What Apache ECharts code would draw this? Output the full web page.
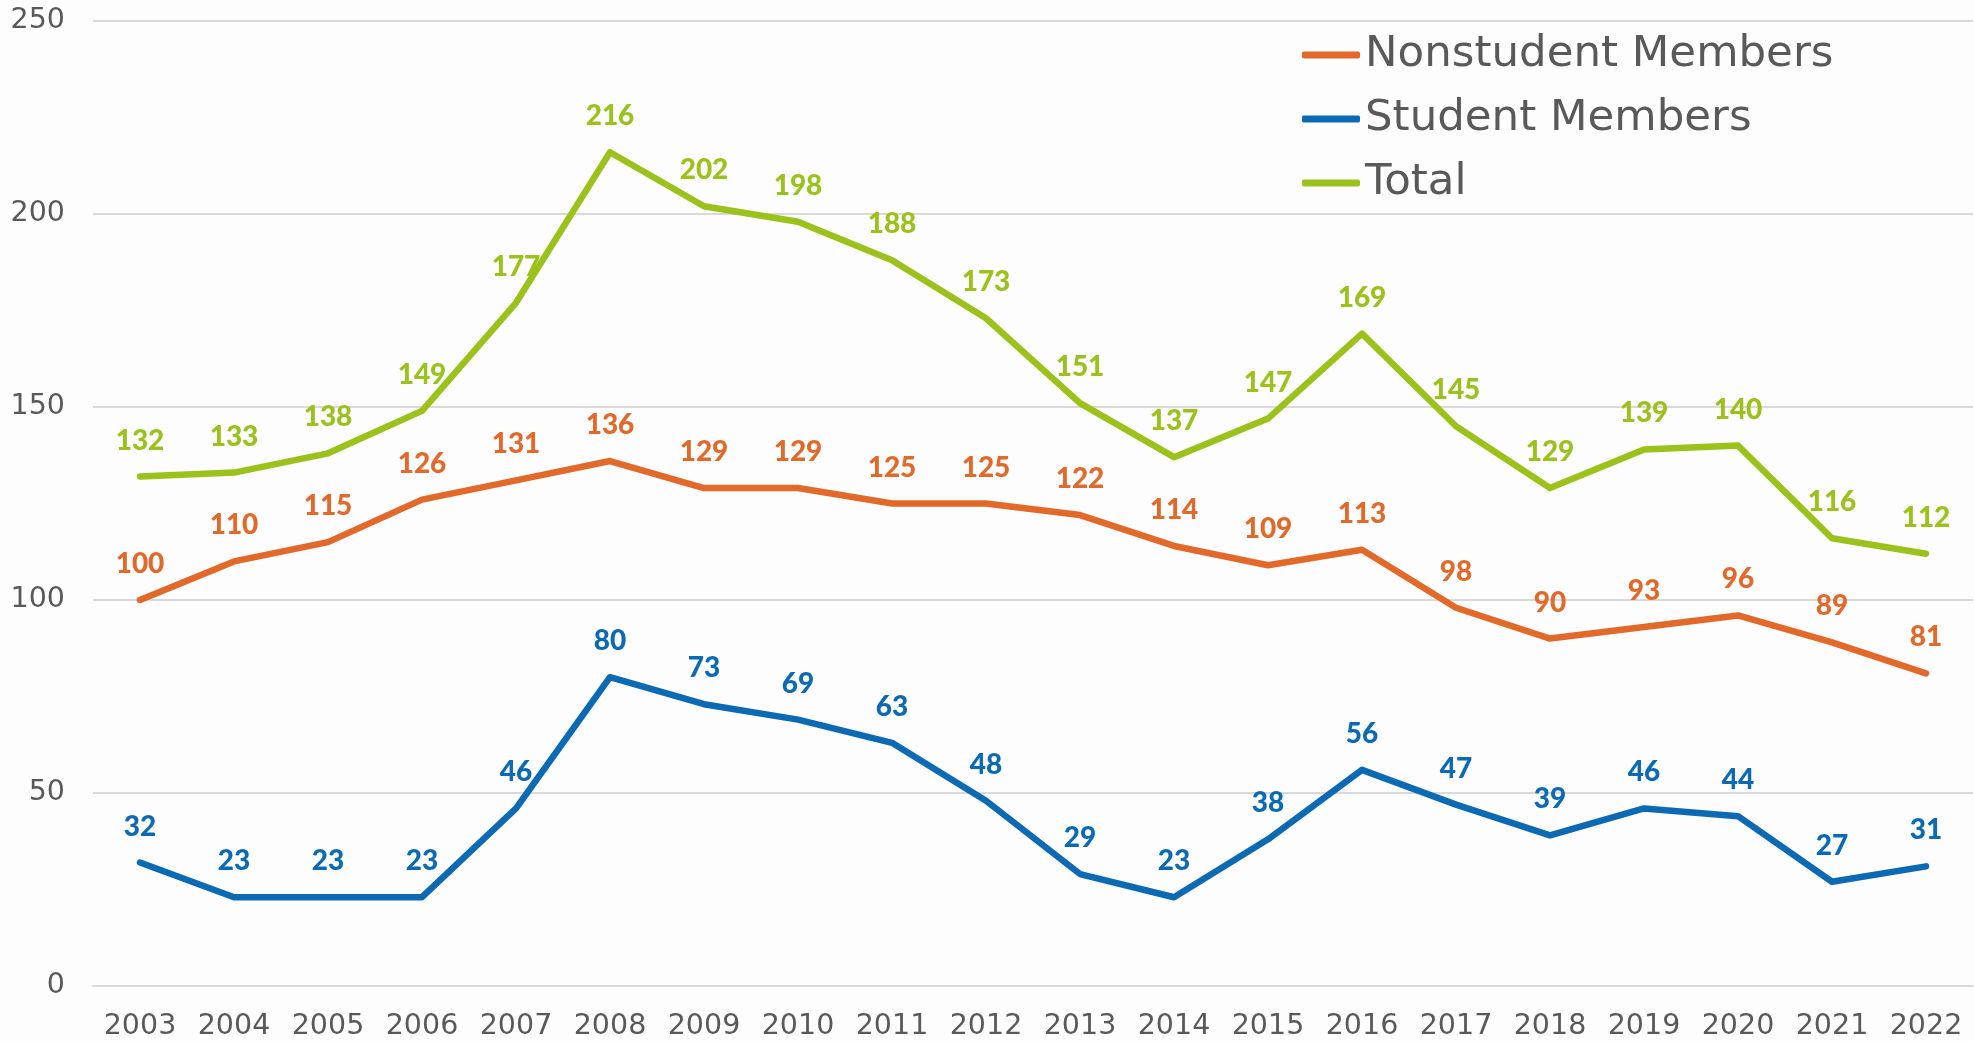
<!DOCTYPE html>
<html><head><meta charset="utf-8">
<script src="https://cdn.jsdelivr.net/npm/echarts@6/dist/echarts.min.js"></script>
<style>html,body{margin:0;padding:0;background:#fdfdfd}#c{width:1974px;height:1041px}</style>
</head><body><div id="c"></div>
<script>
const years = ['2003','2004','2005','2006','2007','2008','2009','2010','2011','2012','2013','2014','2015','2016','2017','2018','2019','2020','2021','2022'];
const nonstudent = [100,110,115,126,131,136,129,129,125,125,122,114,109,113,98,90,93,96,89,81];
const student = [32,23,23,23,46,80,73,69,63,48,29,23,38,56,47,39,46,44,27,31];
const total = [132,133,138,149,177,216,202,198,188,173,151,137,147,169,145,129,139,140,116,112];
const yTicks = [0,50,100,150,200,250];

const colors = {non:'#E2692A', stu:'#0B6AB3', tot:'#9AC21B'};
function mk(name, data, color){
  return {
    name, type:'line', data, symbol:'circle', symbolSize:2, showSymbol:true, smooth:false,
    lineStyle:{color, width:6.5, cap:'round', join:'round'},
    itemStyle:{color},
    label:{show:true, position:'top', distance:21, color, fontFamily:'Lato', fontWeight:900, fontSize:28},
    emphasis:{disabled:true}
  };
}
const chart = echarts.init(document.getElementById('c'));
chart.setOption({
  backgroundColor:'#fdfdfd',
  animation:false,
  grid:{left:93, right:1, top:21, bottom:54, containLabel:false},
  legend:{
    orient:'vertical', left:1297, top:25, itemWidth:58, itemHeight:7, icon:'roundRect',
    itemGap:14,
    textStyle:{fontFamily:'DejaVu Sans', fontSize:43.5, color:'#595959', lineHeight:50},
    data:['Nonstudent Members','Student Members','Total']
  },
  xAxis:{
    type:'category', data:years, boundaryGap:true,
    axisLine:{show:true, lineStyle:{color:'#D9D9D9', width:2}},
    axisTick:{show:false},
    axisLabel:{color:'#595959', fontFamily:'DejaVu Sans', fontSize:28.5, margin:26, interval:0}
  },
  yAxis:{
    type:'value', min:yTicks[0], max:yTicks[yTicks.length-1], interval:50,
    axisLine:{show:false}, axisTick:{show:false},
    splitLine:{lineStyle:{color:'#D9D9D9', width:2}},
    axisLabel:{color:'#595959', fontFamily:'DejaVu Sans', fontSize:28.5, margin:28}
  },
  series:[
    mk('Nonstudent Members', nonstudent, colors.non),
    mk('Student Members', student, colors.stu),
    mk('Total', total, colors.tot)
  ]
});
</script></body></html>
